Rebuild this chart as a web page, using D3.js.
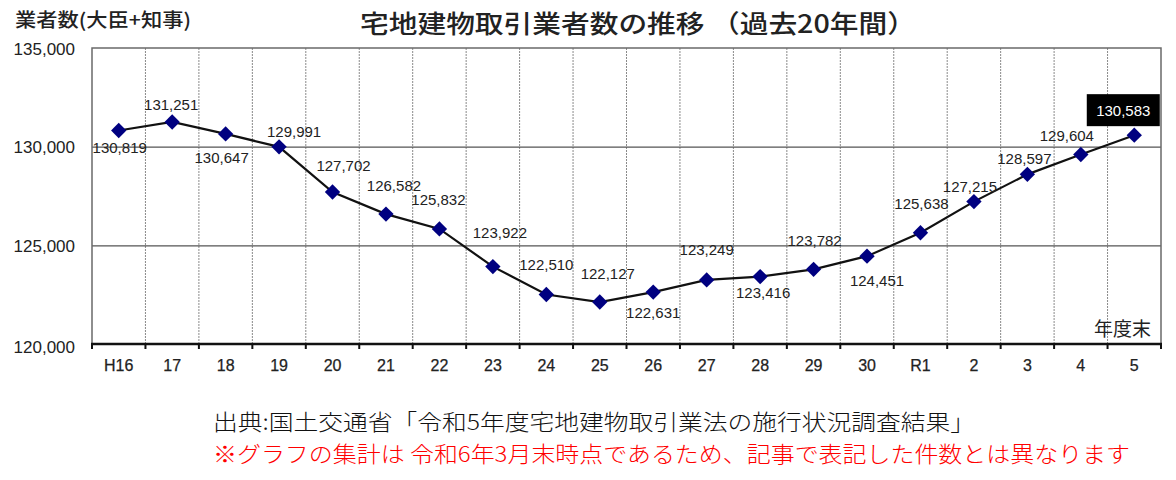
<!DOCTYPE html>
<html>
<head>
<meta charset="utf-8">
<script src="https://cdn.jsdelivr.net/npm/d3@7"></script>
<style>
	body { margin: 0; background: #fff; }
	svg text { font-family: "Liberation Sans", Arial, sans-serif; }
	.jp { font-family: "Noto Sans CJK JP", "Noto Sans", sans-serif; }
</style>
</head>
<body>
<svg id="chart"></svg>
<script>
// data
let years = ["H16", "17", "18", "19", "20", "21", "22", "23", "24", "25", "26", "27", "28", "29", "30", "R1", "2", "3", "4", "5"];
let counts = [130819, 131251, 130647, 129991, 127702, 126582, 125832, 123922, 122510, 122127, 122631, 123249, 123416, 123782, 124451, 125638, 127215, 128597, 129604, 130583];
let y_ticks = [120000, 125000, 130000, 135000];
let grid_values = [125000, 130000];

// label offsets from each point (layout only)
let label_dx = [1, -1, -4, 15, 11, 8, -1, 7, 0, 8, 0, 0, 3, 1, 10, 1, -4, -3, -14, -11];
let label_dy = [17, -17, 24, -15, -27, -29, -29, -34, -30, -29, 20, -30, 16, -29, 24, -29, -15, -16, -19, -25];

let width = 1176;
let height = 480;
let margin = {
	top: 48,
	right: 15,
	bottom: 136,
	left: 92
};

let svg = d3.select("#chart")
	.attr("width", width)
	.attr("height", height);

let x = d3.scaleBand()
	.domain(years)
	.range([margin.left, width - margin.right]);

let y = d3.scaleLinear()
	.domain([120000, 135000])
	.range([height - margin.bottom, margin.top]);

let bottom = height - margin.bottom;

// vertical dotted gridlines at band boundaries
let bounds = years.slice(1).map(d => x(d));
svg.append("g")
	.selectAll("line")
	.data(bounds)
	.enter().append("line")
	.attr("x1", d => d).attr("x2", d => d)
	.attr("y1", margin.top).attr("y2", bottom)
	.attr("stroke", "#8a8a8a")
	.attr("stroke-width", 1)
	.attr("stroke-dasharray", "2,1");

// horizontal gridlines
svg.append("g")
	.attr("transform", "translate(" + margin.left + ",0)")
	.call(d3.axisLeft(y).tickValues(grid_values).tickSize(-(width - margin.left - margin.right)).tickFormat(""))
	.call(g => g.select(".domain").remove())
	.call(g => g.selectAll(".tick line").attr("stroke", "#555").attr("stroke-width", 1.2));

// frame (top, left, right)
svg.append("path")
	.attr("d", "M" + margin.left + "," + bottom + "V" + margin.top + "H" + (width - margin.right) + "V" + bottom)
	.attr("fill", "none")
	.attr("stroke", "#6a6a6a")
	.attr("stroke-width", 1.5);

// bottom axis line and ticks
svg.append("line")
	.attr("x1", margin.left - 1).attr("x2", width - margin.right + 1)
	.attr("y1", bottom).attr("y2", bottom)
	.attr("stroke", "#111")
	.attr("stroke-width", 2.5);

svg.append("g")
	.selectAll("line")
	.data(bounds.concat([margin.left, width - margin.right]))
	.enter().append("line")
	.attr("x1", d => d).attr("x2", d => d)
	.attr("y1", bottom).attr("y2", bottom + 5)
	.attr("stroke", "#111")
	.attr("stroke-width", 2);

// y axis labels
svg.append("g")
	.attr("transform", "translate(" + margin.left + ",0)")
	.call(d3.axisLeft(y).tickValues(y_ticks).tickSize(0).tickPadding(17).tickFormat(d3.format(",")))
	.call(g => g.select(".domain").remove())
	.call(g => g.selectAll("text")
		.attr("font-family", "'Liberation Sans', Arial, sans-serif")
		.attr("font-size", 17)
		.attr("fill", "#222")
		.attr("dy", (d, i) => i == 0 ? "0.5em" : "0.36em"));

// x axis labels
svg.append("g")
	.attr("transform", "translate(0," + bottom + ")")
	.call(d3.axisBottom(x).tickSize(0).tickPadding(16))
	.call(g => g.select(".domain").remove())
	.call(g => g.selectAll("text")
		.attr("font-family", "'Liberation Sans', Arial, sans-serif")
		.attr("font-size", 16)
		.attr("fill", "#222")
		.attr("stroke", "#222")
		.attr("stroke-width", 0.25));

// line
let line = d3.line()
	.x((d, i) => x(years[i]) + x.bandwidth() / 2)
	.y(d => y(d));

svg.append("path")
	.datum(counts)
	.attr("d", line)
	.attr("fill", "none")
	.attr("stroke", "#111")
	.attr("stroke-width", 2.2);

// diamonds
svg.append("g")
	.selectAll("path")
	.data(counts)
	.enter().append("path")
	.attr("d", d3.symbol().type(d3.symbolDiamond2).size(150))
	.attr("transform", (d, i) => "translate(" + (x(years[i]) + x.bandwidth() / 2) + "," + y(d) + ")")
	.attr("fill", "#000080");

// value labels
let fmt = d3.format(",");
let last = counts.length - 1;

let lbl_x = i => x(years[i]) + x.bandwidth() / 2 + label_dx[i];
let lbl_y = i => y(counts[i]) + label_dy[i];

svg.append("rect")
	.attr("x", lbl_x(last) - 36.5)
	.attr("y", lbl_y(last) - 16)
	.attr("width", 73)
	.attr("height", 32)
	.attr("fill", "#000");

svg.append("g")
	.selectAll("text")
	.data(counts)
	.enter().append("text")
	.attr("x", (d, i) => lbl_x(i))
	.attr("y", (d, i) => lbl_y(i))
	.attr("text-anchor", "middle")
	.attr("dominant-baseline", "central")
	.attr("font-size", 15)
	.attr("fill", (d, i) => i == last ? "#fff" : "#222")
	.text(d => fmt(d));

// 年度末
svg.append("text")
	.attr("class", "jp")
	.attr("x", width - margin.right - 10)
	.attr("y", bottom - 17)
	.attr("text-anchor", "end")
	.attr("dominant-baseline", "central")
	.attr("font-size", 19)
	.attr("fill", "#222")
	.text("年度末");

// titles
svg.append("text")
	.attr("class", "jp")
	.attr("x", 15)
	.attr("y", 18)
	.attr("dominant-baseline", "central")
	.attr("font-size", 19)
	.attr("font-weight", 500)
	.attr("fill", "#222")
	.attr("textLength", 176)
	.attr("lengthAdjust", "spacingAndGlyphs")
	.text("業者数(大臣+知事)");

svg.append("text")
	.attr("class", "jp")
	.attr("x", 360)
	.attr("y", 22)
	.attr("dominant-baseline", "central")
	.attr("font-size", 25)
	.attr("font-weight", 500)
	.attr("fill", "#222")
	.attr("textLength", 556)
	.attr("lengthAdjust", "spacingAndGlyphs")
	.text("宅地建物取引業者数の推移 （過去20年間）");

// source notes
svg.append("text")
	.attr("class", "jp")
	.attr("x", 213)
	.attr("y", 420)
	.attr("dominant-baseline", "central")
	.attr("font-size", 22)
	.attr("font-weight", 300)
	.attr("fill", "#111")
	.attr("textLength", 762)
	.attr("lengthAdjust", "spacingAndGlyphs")
	.text("出典:国土交通省「令和5年度宅地建物取引業法の施行状況調査結果」");

svg.append("text")
	.attr("class", "jp")
	.attr("x", 213)
	.attr("y", 452)
	.attr("dominant-baseline", "central")
	.attr("font-size", 22)
	.attr("font-weight", 300)
	.attr("fill", "#ff0000")
	.attr("textLength", 917)
	.attr("lengthAdjust", "spacingAndGlyphs")
	.text("※グラフの集計は 令和6年3月末時点であるため、記事で表記した件数とは異なります");
</script>
</body>
</html>
